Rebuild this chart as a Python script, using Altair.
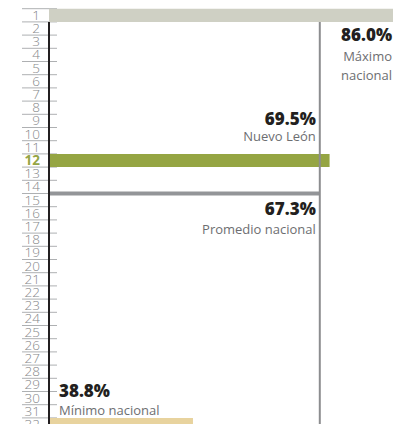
import altair as alt
import pandas as pd

# ---- data ----
ranks = list(range(1, 33))
highlight_rank = 12
bar_ranks = [1, 12, 32]
bar_values = [86.0, 69.5, 38.8]
bar_colors = ["#cfd0c4", "#95a543", "#e8d39e"]
promedio_value = 67.3
promedio_rank = 14.5
value_labels = ["86.0%", "69.5%", "67.3%", "38.8%"]
name_labels = ["Máximo\nnacional", "Nuevo León", "Promedio nacional", "Mínimo nacional"]

# ---- scales ----
W, H = 344, 416
ROW = 13.2
X0, X1 = 6.45, 83.75
Y0 = 0.5 - 0.7 / ROW
Y1 = Y0 + H / ROW
xs = alt.Scale(domain=[X0, X1], nice=False, zero=False)
ys = alt.Scale(domain=[Y0, Y1], nice=False, zero=False, reverse=True)

FONT = "Open Sans"
DARK = "#231f20"
GRAY = "#6d6e71"
AXIS_GRAY = "#858789"

rows = pd.DataFrame({"rank": ranks})
rows["lo"] = rows["rank"] - 0.5
rows["label"] = rows["rank"].astype(str)

bars = pd.DataFrame({"rank": bar_ranks, "value": bar_values, "color": bar_colors})
bars["lo"] = bars["rank"] - 0.5
bars["hi"] = bars["rank"] + 0.5

base_y = dict(scale=ys, axis=None)

seps = alt.Chart(rows).mark_rule(color="#aeb0b2", strokeWidth=1).encode(
    y=alt.Y("lo:Q", **base_y), x=alt.value(-27), x2=alt.value(8)
)

lab = alt.Chart(rows[rows["rank"] != highlight_rank]).mark_text(
    align="right", baseline="middle", font=FONT, fontSize=13.5, fontWeight=300,
    color=AXIS_GRAY, dy=0.5
).encode(y=alt.Y("rank:Q", **base_y), x=alt.value(-9), text="label:N")
lab_hi = alt.Chart(rows[rows["rank"] == highlight_rank]).mark_text(
    align="right", baseline="middle", font=FONT, fontSize=13.5, fontWeight="bold",
    color="#95a543", dy=0.5
).encode(y=alt.Y("rank:Q", **base_y), x=alt.value(-9), text="label:N")

bar = alt.Chart(bars).mark_rect(clip=True).encode(
    y=alt.Y("lo:Q", **base_y), y2="hi:Q",
    x=alt.X("value:Q", scale=xs, axis=None), x2=alt.value(0),
    color=alt.Color("color:N", scale=None),
)

axis_df = pd.DataFrame({"y1": [1.5], "y2": [Y1]})
axis_line = alt.Chart(axis_df).mark_rule(color=DARK, strokeWidth=2).encode(
    x=alt.value(0), y=alt.Y("y1:Q", **base_y), y2="y2:Q"
)

prom_df = pd.DataFrame({"value": [promedio_value], "rank": [promedio_rank], "y1": [1.5], "y2": [Y1]})
prom_v = alt.Chart(prom_df).mark_rule(color="#8c8d8f", strokeWidth=2).encode(
    x=alt.X("value:Q", scale=xs, axis=None), y=alt.Y("y1:Q", **base_y), y2="y2:Q"
)
prom_h = alt.Chart(prom_df).mark_rule(color="#939598", strokeWidth=4).encode(
    y=alt.Y("rank:Q", **base_y), x=alt.X("value:Q", scale=xs, axis=None), x2=alt.value(0)
)

ann = pd.DataFrame({
    "x": [X1, promedio_value, promedio_value, X0],
    "rank": [1, 12, promedio_rank, 32],
    "v": value_labels,
    "n": name_labels,
})


def txt(i, text_col, align, dx, dy, bold):
    return alt.Chart(ann.iloc[[i]]).mark_text(
        align=align, baseline="alphabetic", font=FONT,
        fontSize=17 if bold else 13, fontWeight=800 if bold else "normal",
        color=DARK if bold else GRAY, dx=dx, dy=dy,
        lineBreak="\n", lineHeight=19.5,
    ).encode(
        x=alt.X("x:Q", scale=xs, axis=None), y=alt.Y("rank:Q", **base_y),
        text=f"{text_col}:N",
    )


texts = [
    txt(0, "v", "right", -1, 25.6, True),
    txt(0, "n", "right", -1, 45.3, False),
    txt(1, "v", "right", -4, -36, True),
    txt(1, "n", "right", -4, -20, False),
    txt(2, "v", "right", -4, 21.7, True),
    txt(2, "n", "right", -4, 40.7, False),
    txt(3, "v", "left", 10, -27.6, True),
    txt(3, "n", "left", 10, -9.6, False),
]

chart = alt.layer(seps, lab, lab_hi, bar, prom_h, prom_v, axis_line, *texts).properties(
    width=W, height=H,
    padding={"left": 41, "top": 0, "right": 0, "bottom": 0},
    autosize=alt.AutoSizeParams(type="none"),
).configure_view(stroke=None)

chart.save("out.html", embed_options={"renderer": "svg", "actions": False})
